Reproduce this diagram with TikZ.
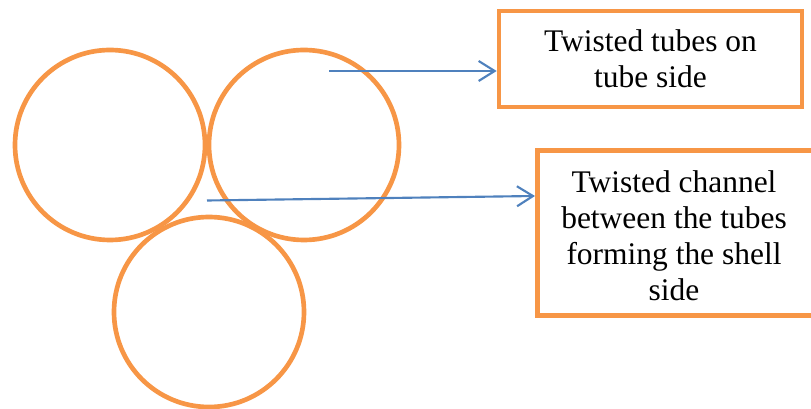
\documentclass[tikz,border=0pt]{standalone}
\usepackage{fontspec}
\setmainfont{Liberation Serif}
\usetikzlibrary{arrows.meta}
\definecolor{tubeorange}{HTML}{F79646}
\definecolor{arrowblue}{HTML}{4F81BD}
\begin{document}
\begin{tikzpicture}[x=0.75pt,y=-0.75pt,
  tube/.style={draw=tubeorange,line width=3.5pt,circle,minimum size=190*0.75pt,inner sep=0pt},
  labelbox/.style={draw=tubeorange,line width=3.5pt,fill=white,inner sep=0pt,
    font=\fontsize{23.6}{27}\selectfont,align=center},
  pointer/.style={draw=arrowblue,line width=1.6pt,
    -{Straight Barb[length=12pt,width=15pt,line width=1.6pt]}}]
\useasboundingbox (0,0) rectangle (811,409);
% three tubes of the bundle
\node[tube] (left) at (110,145) {};
\node[tube] (right) at (304,145) {};
\node[tube] (bottom) at (209,312) {};
% label boxes
\node[labelbox,minimum width=303*0.75pt,minimum height=96*0.75pt] (tubeside) at (650.5,59)
  {Twisted tubes on\\tube side};
\node[labelbox,minimum width=282*0.75pt,minimum height=165*0.75pt,anchor=north west] (shellside) at (535,148) {};
\node[font=\fontsize{23.6}{27}\selectfont,align=center] (shelltext) at (674,236)
  {Twisted channel\\between the tubes\\forming the shell\\side};
% pointers
\coordinate (tubept) at (329,71);
\coordinate (chanpt) at (207,200.5);
\draw[pointer] (tubept) -- (tubeside.west |- tubept);
\draw[pointer] (chanpt) -- (shellside.west |- 0,196);
\end{tikzpicture}
\end{document}
